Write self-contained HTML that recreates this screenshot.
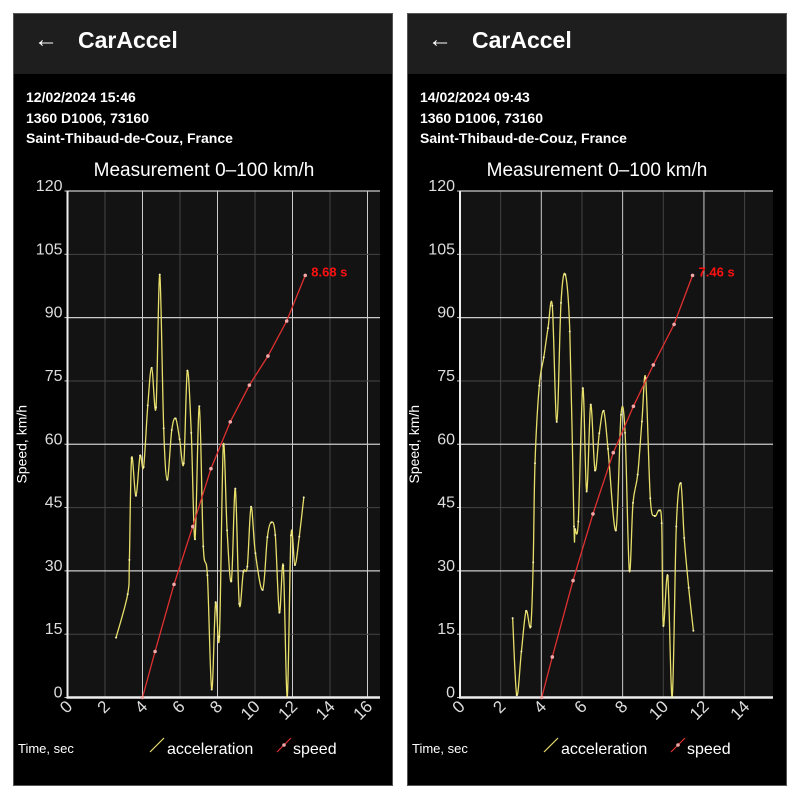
<!DOCTYPE html>
<html><head><meta charset="utf-8">
<style>
html,body{margin:0;padding:0;background:#fff;width:800px;height:800px;overflow:hidden;font-family:"Liberation Sans",sans-serif}
.panel{position:absolute;top:13px;width:380px;height:773px;background:#000;border:1px solid #555;box-sizing:border-box;color:#fff}
.hdr{position:absolute;left:0;top:0;width:100%;height:60px;background:#1e1e1e}
.back{position:absolute;left:20px;top:12px;font-size:24px}
.ttl{position:absolute;left:64px;top:13px;font-size:23px;font-weight:bold}
.info{position:absolute;left:12px;font-size:14px;font-weight:bold}
svg{position:absolute;left:0;top:0}
</style></head><body>
<div class="panel" style="left:13px">
 <div class="hdr"><span class="back">←</span><span class="ttl">CarAccel</span></div>
 <div class="info" style="top:75px">12/02/2024 15:46</div>
 <div class="info" style="top:96px">1360 D1006, 73160</div>
 <div class="info" style="top:116px">Saint-Thibaud-de-Couz, France</div>
</div>
<div class="panel" style="left:407px">
 <div class="hdr"><span class="back">←</span><span class="ttl">CarAccel</span></div>
 <div class="info" style="top:75px">14/02/2024 09:43</div>
 <div class="info" style="top:96px">1360 D1006, 73160</div>
 <div class="info" style="top:116px">Saint-Thibaud-de-Couz, France</div>
</div>
<svg id="chart" width="800" height="800"></svg>
<script>
const yTicks=[0,15,30,45,60,75,90,105,120];
const xTicksL=[0,2,4,6,8,10,12,14,16];
const xTicksR=[0,2,4,6,8,10,12,14];
const speedTL=[4.0,4.67,5.68,6.68,7.65,8.68,9.7,10.69,11.69,12.68];
const speedVL=[0,10.9,26.8,40.5,54.2,65.3,74,80.9,89.2,100];
const accTL=[2.59,3.21,3.30,3.42,3.65,3.87,4.06,4.28,4.49,4.72,4.92,5.13,5.32,5.56,5.77,5.98,6.20,6.39,6.60,6.80,7.03,7.24,7.46,7.69,7.90,8.10,8.31,8.51,8.74,8.95,9.16,9.38,9.59,9.79,10.02,10.41,10.66,10.87,11.08,11.30,11.51,11.72,11.92,12.13,12.36,12.60];
const accVL=[14.2,24.5,32.6,56.7,47.8,57.3,54.6,69.2,78.1,68.7,100.2,63.8,51.6,63.4,66.1,61.2,55.5,77.4,62.7,37.5,69.0,35.8,29.0,1.9,22.5,14.4,59.6,39.6,27.6,49.5,22.2,29.8,31.0,45.2,34.2,25.5,38.0,41.5,38.5,20.1,31.2,0.2,38.4,31.4,38.1,47.4];
const speedTR=[4.02,4.54,5.56,6.54,7.54,8.53,9.51,10.53,11.44];
const speedVR=[0,9.6,27.7,43.5,58,69,78.8,88.4,100];
const accTR=[2.59,2.79,3.02,3.25,3.48,3.60,3.69,3.90,4.12,4.33,4.54,4.76,4.97,5.18,5.40,5.61,5.66,5.82,6.04,6.23,6.43,6.64,6.85,7.07,7.28,7.67,7.92,8.12,8.33,8.51,8.74,8.95,9.13,9.36,9.58,9.79,9.92,10.0,10.22,10.44,10.64,10.86,11.03,11.25,11.48];
const accVR=[18.8,0.6,10.9,20.5,16.8,32,55.5,73.9,80.6,87.5,92.8,65.3,93.5,100.2,86.7,40.5,39.9,41.7,73.3,48.8,69.4,53.8,62.6,67.9,58.9,39.6,67.0,62.7,30.1,46.1,52.8,65.4,75.7,47.2,43.0,44.3,41.3,17.0,28.8,0.2,40.5,50.8,37.8,26.0,15.8];
const labelL="8.68 s", labelR="7.46 s";

const NS="http://www.w3.org/2000/svg";
const svg=document.getElementById('chart');
function mk(tag,attrs,parent){const e=document.createElementNS(NS,tag);for(const k in attrs)e.setAttribute(k,attrs[k]);(parent||svg).appendChild(e);return e;}
function smooth(pts){let d='M'+pts[0][0]+','+pts[0][1];for(let i=0;i<pts.length-1;i++){const p0=pts[Math.max(0,i-1)],p1=pts[i],p2=pts[i+1],p3=pts[Math.min(pts.length-1,i+2)];const c1=[p1[0]+(p2[0]-p0[0])/6,p1[1]+(p2[1]-p0[1])/6],c2=[p2[0]-(p3[0]-p1[0])/6,p2[1]-(p3[1]-p1[1])/6];d+=' C'+c1[0].toFixed(1)+','+c1[1].toFixed(1)+' '+c2[0].toFixed(1)+','+c2[1].toFixed(1)+' '+p2[0].toFixed(1)+','+p2[1].toFixed(1);}return d;}
function panel(o){
 const g=mk('g',{});
 
 
 const X=t=>o.x0+(t-0)*(o.x1-o.x0)/o.tmax, Y=v=>o.y0-(v/120)*(o.y0-o.y1);
 const t=mk('text',{x:o.cx,y:176,'text-anchor':'middle',fill:'#fff','font-size':19},g);t.textContent='Measurement 0–100 km/h';
 
 const bg=mk('rect',{x:o.x0,y:o.y1,width:o.xe-o.x0,height:o.y0-o.y1,fill:'#131313'},g);
 
 o.xt.forEach((v,i)=>{const x=X(v);if(v>0){const l=mk('line',{x1:x,x2:x,y1:o.y1,y2:o.y0,stroke:(v%4==0)?'#ccc':'#444','stroke-width':1},g);}
  const tx=mk('text',{x:0,y:0,'text-anchor':'end',fill:'#ddd','font-size':17,transform:`translate(${x+6},${o.y0+10}) rotate(-45)`},g);tx.textContent=v;
  });
 yTicks.forEach(v=>{const y=Y(v);if(v>0){const l=mk('line',{x1:o.x0,x2:o.xe,y1:y,y2:y,stroke:(v%30==0)?'#ccc':'#444','stroke-width':(v%30==0)?1.3:1},g);}
  mk('line',{x1:o.x0-3,x2:o.x0,y1:y,y2:y,stroke:'#ccc'},g);
  const tx=mk('text',{x:o.x0-5,y:y,'text-anchor':'end',fill:'#ddd','font-size':16},g);tx.textContent=v;
  });
 mk('line',{x1:o.x0,x2:o.x0,y1:o.y1,y2:o.y0+1,stroke:'#eee','stroke-width':2},g);
 mk('line',{x1:o.x0-1,x2:o.xe,y1:o.y0,y2:o.y0,stroke:'#eee','stroke-width':2.5},g);
 const yl=mk('text',{x:0,y:0,'text-anchor':'middle',fill:'#fff','font-size':14,transform:`translate(${o.x0-41},${(o.y0+o.y1)/2}) rotate(-90)`},g);yl.textContent='Speed, km/h';
 
 const xl=mk('text',{x:o.pl+5,y:753,fill:'#fff','font-size':13},g);xl.textContent='Time, sec';
 
 const ap=o.at.map((t,i)=>[X(t),Y(o.av[i])]);
 const a=mk('path',{d:smooth(ap),fill:'none',stroke:'#e8df6a','stroke-width':1.3},g);
 
 ap.forEach(p=>{const c=mk('circle',{cx:p[0],cy:p[1],r:1,fill:'#f4efb0'},g);});
 const sp=o.st.map((t,i)=>[X(t),Y(o.sv[i])]);
 const s=mk('polyline',{points:sp.map(p=>p.join(',')).join(' '),fill:'none',stroke:'#e03030','stroke-width':1.3},g);
 
 sp.forEach(p=>{const c=mk('circle',{cx:p[0],cy:p[1],r:1.8,fill:'#f4a8a8'},g);});
 const last=sp[sp.length-1];
 const lb=mk('text',{x:last[0]+6,y:last[1]+1,fill:'#ff1010','font-size':13,'font-weight':'bold'},g);lb.textContent=o.label;
 
 const lx=o.pl+137;
 const l1=mk('line',{x1:lx,y1:752,x2:lx+14,y2:738,stroke:'#e8df6a','stroke-width':1.2},g);
 
 const t1=mk('text',{x:lx+17,y:754,fill:'#fff','font-size':16},g);t1.textContent='acceleration';
 
 const l2=mk('line',{x1:lx+127,y1:752,x2:lx+141,y2:738,stroke:'#e03030','stroke-width':1.2},g);
 
 mk('circle',{cx:lx+134,cy:745,r:1.8,fill:'#f4a8a8'},g);
 const t2=mk('text',{x:lx+143,y:754,fill:'#fff','font-size':16},g);t2.textContent='speed';
 
}
panel({name:'left-chart',pl:13,cx:204,x0:67.5,x1:367.5,tmax:16,xe:380,y0:697.5,y1:191,xt:xTicksL,at:accTL,av:accVL,st:speedTL,sv:speedVL,label:labelL});
panel({name:'right-chart',pl:407,cx:597,x0:460,x1:744.6,tmax:14,xe:773,y0:697.5,y1:191,xt:xTicksR,at:accTR,av:accVR,st:speedTR,sv:speedVR,label:labelR});
</script>
</body></html>
